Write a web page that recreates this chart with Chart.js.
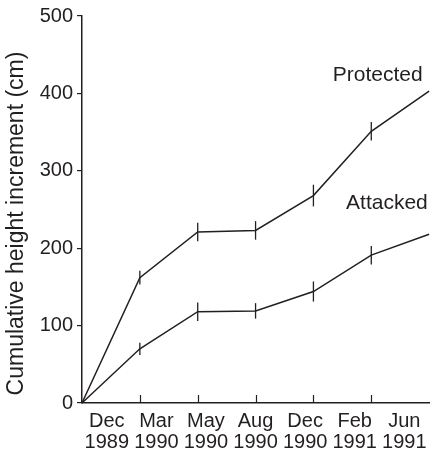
<!DOCTYPE html>
<html>
<head>
<meta charset="utf-8">
<script src="https://cdn.jsdelivr.net/npm/chart.js@4/dist/chart.umd.min.js"></script>
<style>
  html, body { margin: 0; padding: 0; background: #fff; }
  #wrap { width: 435px; height: 457px; position: relative; }
</style>
</head>
<body>
<div id="wrap"><canvas id="c"></canvas></div>
<script>
// Sampling dates shown along the bottom axis
const categories = [['Dec', '1989'], ['Mar', '1990'], ['May', '1990'], ['Aug', '1990'], ['Dec', '1990'], ['Feb', '1991'], ['Jun', '1991']];
// Sampling occasions (position along the time axis)
const occasions = [0, 1, 2, 3, 4, 5, 6];
// Cumulative height increment (cm)
const protectedValues = [0, 162, 221, 223, 268, 351, 403];
const attackedValues = [0, 70, 118, 119, 144, 191, 218];
// Error bar half-lengths (cm)
const protectedErrors = [null, 9, 12, 12, 14, 12, null];
const attackedErrors = [null, 8, 12, 10, 13, 12, null];
// Y axis ticks
const yTicks = [0, 100, 200, 300, 400, 500];
// Series labels written inside the plot, placed in data units
const seriesNames = ['Protected', 'Attacked'];
const seriesLabelX = [5.11, 5.27];
const seriesLabelY = [424, 258];
const yTitle = 'Cumulative height increment (cm)';

const INK = '#231f20';
const FONT = '"Liberation Sans", Arial, Helvetica, sans-serif';

const toPoints = (vals) => occasions.map((x, i) => ({ x, y: vals[i] }));

const errorBars = {
  id: 'errorBars',
  afterDatasetsDraw(chart) {
    const { ctx, scales: { x, y } } = chart;
    const errs = [protectedErrors, attackedErrors];
    ctx.save();
    ctx.strokeStyle = INK;
    ctx.lineWidth = 1.3;
    chart.data.datasets.forEach((ds, di) => {
      ds.data.forEach((p, i) => {
        const e = errs[di][i];
        if (e == null) return;
        const px = x.getPixelForValue(p.x);
        ctx.beginPath();
        ctx.moveTo(px, y.getPixelForValue(p.y - e));
        ctx.lineTo(px, y.getPixelForValue(p.y + e));
        ctx.stroke();
      });
    });
    ctx.restore();
  }
};

const innerTicks = {
  id: 'innerTicks',
  afterDraw(chart) {
    const { ctx, scales: { x }, chartArea } = chart;
    ctx.save();
    ctx.strokeStyle = INK;
    ctx.lineWidth = 1.2;
    x.ticks.forEach(t => {
      if (t.value <= x.min || t.value >= x.max) return;
      const px = Math.round(x.getPixelForValue(t.value)) + 0.5;
      ctx.beginPath();
      ctx.moveTo(px, chartArea.bottom);
      ctx.lineTo(px, chartArea.bottom - 8);
      ctx.stroke();
    });
    ctx.restore();
  }
};

const textLabels = {
  id: 'textLabels',
  afterDraw(chart) {
    const { ctx, scales: { x, y }, chartArea } = chart;
    ctx.save();
    ctx.fillStyle = INK;
    ctx.font = '21px ' + FONT;
    ctx.textAlign = 'center';
    ctx.textBaseline = 'middle';
    seriesNames.forEach((name, i) => {
      ctx.fillText(name, x.getPixelForValue(seriesLabelX[i]), y.getPixelForValue(seriesLabelY[i]));
    });
    // vertical axis title
    ctx.font = '23px ' + FONT;
    ctx.translate(17, (chartArea.top + chartArea.bottom) / 2 + 14);
    ctx.rotate(-Math.PI / 2);
    ctx.fillText(yTitle, 0, 0);
    ctx.restore();
  }
};

new Chart(document.getElementById('c'), {
  type: 'line',
  data: {
    labels: categories,
    datasets: [
      { label: seriesNames[0], data: toPoints(protectedValues), xAxisID: 'x', yAxisID: 'y',
        borderColor: INK, borderWidth: 1.5, pointRadius: 0, fill: false, tension: 0, clip: false },
      { label: seriesNames[1], data: toPoints(attackedValues), xAxisID: 'x', yAxisID: 'y',
        borderColor: INK, borderWidth: 1.5, pointRadius: 0, fill: false, tension: 0, clip: false }
    ]
  },
  options: {
    responsive: true,
    maintainAspectRatio: false,
    animation: false,
    layout: { padding: { top: 15, right: 0, bottom: 0, left: 0 } },
    plugins: { legend: { display: false }, tooltip: { enabled: false } },
    scales: {
      x: {
        type: 'linear',
        position: 'bottom',
        min: 0, max: 6,
        ticks: { display: false, stepSize: 1 },
        grid: { display: false, drawTicks: false },
        border: { display: true, color: INK, width: 1.5 },
        afterFit(s) { s.height = 0; }
      },
      x2: {
        type: 'category',
        position: 'bottom',
        offset: true,
        labels: categories,
        grid: { display: false, drawTicks: false },
        border: { display: false },
        ticks: { color: INK, font: { family: FONT, size: 20, lineHeight: 1.05 }, padding: 8, maxRotation: 0, autoSkip: false },
        afterFit(s) { s.height = 54; }
      },
      y: {
        type: 'linear',
        min: 0, max: 500,
        afterBuildTicks(s) { s.ticks = yTicks.map(v => ({ value: v })); },
        ticks: { color: INK, font: { family: FONT, size: 20 }, padding: 4 },
        grid: { drawOnChartArea: false, drawTicks: true, tickLength: 5, color: INK, lineWidth: 1.2 },
        border: { display: true, color: INK, width: 1.5 },
        afterFit(s) { s.width = 82; }
      }
    }
  },
  plugins: [errorBars, innerTicks, textLabels]
});
</script>
</body>
</html>
